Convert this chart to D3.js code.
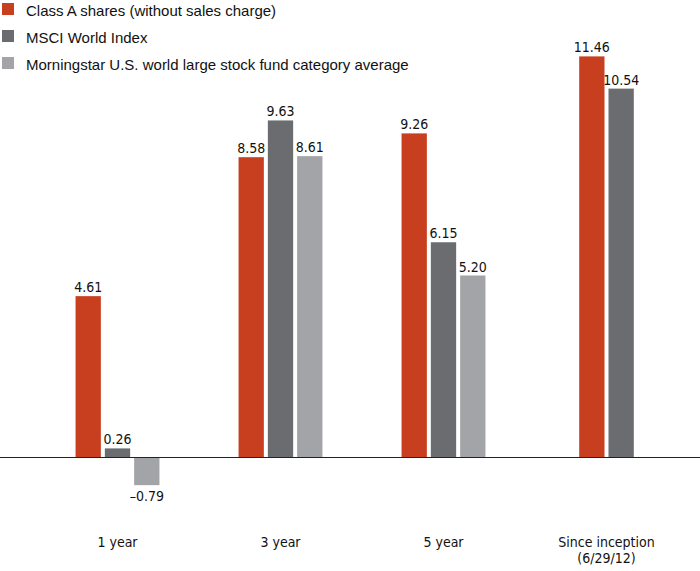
<!DOCTYPE html>
<html><head><meta charset="utf-8">
<script src="https://cdn.jsdelivr.net/npm/d3@7/dist/d3.min.js"></script>
<style>body{margin:0;background:#fff}svg{display:block}</style>
</head><body>
<svg id="chart" width="700" height="571"></svg>
<script>
const categories = ["1 year", "3 year", "5 year", "Since inception\n(6/29/12)"];
const seriesNames = ["Class A shares (without sales charge)", "MSCI World Index", "Morningstar U.S. world large stock fund category average"];
const classA = [4.61, 8.58, 9.26, 11.46];
const msci = [0.26, 9.63, 6.15, 10.54];
const morningstar = [-0.79, 8.61, 5.20, null];
const colors = ["#c73f1f", "#6b6c70", "#a3a4a7"];

const series = [classA, msci, morningstar];
const svg = d3.select("#chart");
const narrow = "'Liberation Sans Narrow','DejaVu Sans Condensed',sans-serif";

const x = d3.scaleBand().domain(categories).range([36, 688]);
const y = d3.scaleLinear().domain([0, 10]).range([457.5, 107.5]);
const barW = 25.3, barStep = 29.3;

// bars
categories.forEach((cat, ci) => {
  const present = series.map((s, si) => ({si, v: s[ci]})).filter(d => d.v !== null);
  const n = present.length;
  const cx = x(cat) + x.bandwidth() / 2;
  present.forEach((d, k) => {
    const left = cx + (k - (n - 1) / 2) * barStep - barW / 2;
    const top = Math.min(y(d.v), y(0));
    const h = Math.abs(y(d.v) - y(0));
    svg.append("rect").attr("x", left).attr("y", top).attr("width", barW).attr("height", h)
      .attr("fill", colors[d.si]);
    svg.append("text").attr("x", left + barW / 2)
      .attr("y", d.v >= 0 ? y(d.v) - 4 : y(d.v) + 16)
      .attr("text-anchor", "middle").attr("font-family", narrow).attr("font-size", 14)
      .attr("fill", "#111").text(d.v < 0 ? "\u2013" + Math.abs(d.v).toFixed(2) : d.v.toFixed(2));
  });
});

// zero line
svg.append("line").attr("x1", 0).attr("x2", 700).attr("y1", y(0)).attr("y2", y(0))
  .attr("stroke", "#222").attr("stroke-width", 1);

// category labels
categories.forEach(cat => {
  cat.split("\n").forEach((l, i) => {
    svg.append("text").attr("x", x(cat) + x.bandwidth() / 2).attr("y", 547 + i * 16)
      .attr("text-anchor", "middle").attr("font-family", narrow).attr("font-size", 14)
      .attr("fill", "#111").text(l);
  });
});

// legend
seriesNames.forEach((name, i) => {
  const g = svg.append("g").attr("transform", `translate(0,${i * 27})`);
  g.append("rect").attr("x", 2).attr("y", 3).attr("width", 12).attr("height", 12).attr("fill", colors[i]);
  g.append("text").attr("x", 26).attr("y", 16).attr("font-family", "'Liberation Sans',Arial,sans-serif")
    .attr("font-size", 15).attr("fill", "#111").text(name);
});
</script>
</body></html>
